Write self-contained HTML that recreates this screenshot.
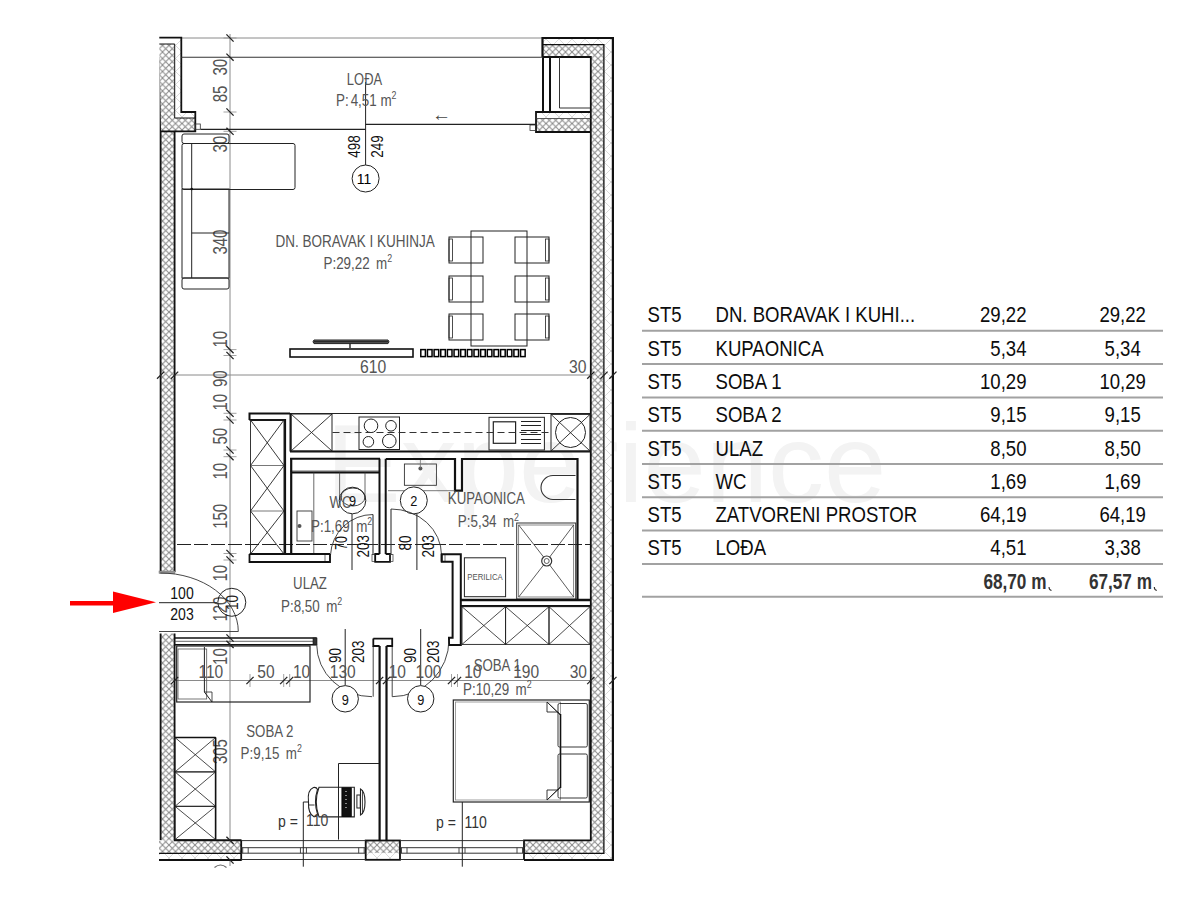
<!DOCTYPE html>
<html><head><meta charset="utf-8"><style>
html,body{margin:0;padding:0;background:#fff;width:1200px;height:900px;overflow:hidden}
svg{display:block}
text{font-family:"Liberation Sans",sans-serif}
</style></head><body>
<svg width="1200" height="900" viewBox="0 0 1200 900">
<defs>
<pattern id="h" width="6.5" height="6.5" patternUnits="userSpaceOnUse">
<rect width="6.5" height="6.5" fill="#fff"/>
<path d="M0 0L6.5 6.5M6.5 0L0 6.5" stroke="#888" stroke-width="1"/>
</pattern>
<pattern id="hl" width="13" height="13" patternUnits="userSpaceOnUse">
<rect width="13" height="13" fill="#fff"/>
<path d="M0 0L13 13M13 0L0 13" stroke="#d0d0d0" stroke-width="0.8"/>
</pattern>
</defs>
<text x="326" y="501.5" font-size="112" fill="#f3f3f3">Experience</text>
<line x1="230" y1="34" x2="230" y2="866" stroke="#8a8a8a" stroke-width="1" />
<line x1="182" y1="38" x2="543" y2="38" stroke="#8a8a8a" stroke-width="1" />
<line x1="160" y1="375" x2="614" y2="375" stroke="#8a8a8a" stroke-width="1" />
<line x1="160" y1="680.5" x2="614" y2="680.5" stroke="#8a8a8a" stroke-width="1" />
<line x1="160" y1="544.5" x2="614" y2="544.5" stroke="#222" stroke-width="1" stroke-dasharray="14 3"/>
<rect x="161" y="131" width="13.6" height="441" fill="url(#h)"/>
<rect x="161" y="633.5" width="13.6" height="207" fill="url(#h)"/>
<line x1="160.6" y1="57" x2="160.6" y2="572" stroke="#111" stroke-width="1.8" />
<line x1="160.6" y1="633.5" x2="160.6" y2="840" stroke="#111" stroke-width="1.8" />
<line x1="174.6" y1="131" x2="174.6" y2="572" stroke="#111" stroke-width="1.8" />
<line x1="174.6" y1="633.5" x2="174.6" y2="840.5" stroke="#111" stroke-width="1.8" />
<path d="M159.3 44 H174.7 V118 H195 V131 H161 Z" fill="url(#h)"/>
<path d="M174.7 38 H181.3 V112 H195.3 V118 H174.7 Z" fill="url(#hl)"/>
<path d="M159.3 44 H174.7 V118 H195" fill="none" stroke="#111" stroke-width="1" />
<path d="M159.3 37.6 H181.3 V112 H195.3 V131.3 H160.6" fill="none" stroke="#111" stroke-width="1.8" />
<rect x="195.3" y="124" width="5" height="5.3" fill="none" stroke="#333" stroke-width="0.8" />
<path d="M543 44.6 H604 V853.3 H524 V840.4 H590.8 V132 H536 V118.5 H590.8 V57 H543 Z" fill="url(#h)"/>
<path d="M543 38 H612 V859.6 H524 V853.3 H604 V44.6 H543 Z" fill="url(#hl)"/>
<path d="M536 112 H590.8 V118.5 H536 Z" fill="url(#hl)"/>
<path d="M542.5 57 V38 H612.9 V860 H524" fill="none" stroke="#111" stroke-width="2.2" />
<path d="M543 44.6 H603.9 V853.3 H524" fill="none" stroke="#111" stroke-width="1.3" />
<path d="M542.5 57 H590.8 V840.4 H524 V860" fill="none" stroke="#111" stroke-width="1.8" />
<path d="M590.8 132 H536 V112 H590.8" fill="none" stroke="#111" stroke-width="1.8" />
<line x1="536" y1="118.5" x2="590.8" y2="118.5" stroke="#333" stroke-width="0.8" />
<line x1="550" y1="57" x2="550" y2="112" stroke="#111" stroke-width="2" />
<line x1="543" y1="57" x2="543" y2="112" stroke="#111" stroke-width="2" />
<line x1="559.5" y1="57" x2="559.5" y2="108" stroke="#333" stroke-width="1" />
<line x1="559.5" y1="108" x2="590" y2="108" stroke="#333" stroke-width="1" />
<rect x="530" y="125" width="5.5" height="5.5" fill="none" stroke="#333" stroke-width="0.8" />
<line x1="200.5" y1="129.4" x2="365.5" y2="129.4" stroke="#222" stroke-width="1.1" />
<line x1="365.5" y1="124.4" x2="536" y2="124.4" stroke="#222" stroke-width="1.1" />
<line x1="181" y1="57.2" x2="543" y2="57.2" stroke="#333" stroke-width="1.1" />
<path d="M159 840.4 H241.2 V853.3 H159 Z" fill="url(#h)"/>
<path d="M159 853.3 H241.2 V859.6 H159 Z" fill="url(#hl)"/>
<line x1="174" y1="840.2" x2="241.5" y2="840.2" stroke="#111" stroke-width="2" />
<line x1="159" y1="853.3" x2="241.2" y2="853.3" stroke="#111" stroke-width="1.3" />
<line x1="159" y1="860" x2="241.5" y2="860" stroke="#111" stroke-width="2" />
<line x1="241.2" y1="840" x2="241.2" y2="860.5" stroke="#111" stroke-width="1.8" />
<path d="M365.7 840.5 H400 V853.2 H365.7 Z" fill="url(#h)"/>
<path d="M365.7 853.2 H400 V859.5 H365.7 Z" fill="url(#hl)"/>
<rect x="365.7" y="840.5" width="34.3" height="19.3" fill="none" stroke="#111" stroke-width="1.8" />
<line x1="241.2" y1="840.6" x2="365.7" y2="840.6" stroke="#333" stroke-width="1" />
<line x1="241.2" y1="847.7" x2="365.7" y2="847.7" stroke="#333" stroke-width="1" />
<line x1="241.2" y1="853.2" x2="365.7" y2="853.2" stroke="#333" stroke-width="1" />
<line x1="241.2" y1="859.5" x2="365.7" y2="859.5" stroke="#333" stroke-width="1" />
<line x1="242.7" y1="847.7" x2="242.7" y2="853.2" stroke="#333" stroke-width="0.9" />
<line x1="248.2" y1="847.7" x2="248.2" y2="853.2" stroke="#333" stroke-width="0.9" />
<line x1="300.45" y1="847.7" x2="300.45" y2="853.2" stroke="#333" stroke-width="0.9" />
<line x1="306.45" y1="847.7" x2="306.45" y2="853.2" stroke="#333" stroke-width="0.9" />
<line x1="358.7" y1="847.7" x2="358.7" y2="853.2" stroke="#333" stroke-width="0.9" />
<line x1="364.2" y1="847.7" x2="364.2" y2="853.2" stroke="#333" stroke-width="0.9" />
<line x1="400" y1="840.6" x2="524" y2="840.6" stroke="#333" stroke-width="1" />
<line x1="400" y1="847.7" x2="524" y2="847.7" stroke="#333" stroke-width="1" />
<line x1="400" y1="853.2" x2="524" y2="853.2" stroke="#333" stroke-width="1" />
<line x1="400" y1="859.5" x2="524" y2="859.5" stroke="#333" stroke-width="1" />
<line x1="401.5" y1="847.7" x2="401.5" y2="853.2" stroke="#333" stroke-width="0.9" />
<line x1="407" y1="847.7" x2="407" y2="853.2" stroke="#333" stroke-width="0.9" />
<line x1="459.0" y1="847.7" x2="459.0" y2="853.2" stroke="#333" stroke-width="0.9" />
<line x1="465.0" y1="847.7" x2="465.0" y2="853.2" stroke="#333" stroke-width="0.9" />
<line x1="517" y1="847.7" x2="517" y2="853.2" stroke="#333" stroke-width="0.9" />
<line x1="522.5" y1="847.7" x2="522.5" y2="853.2" stroke="#333" stroke-width="0.9" />
<line x1="365.6" y1="82" x2="365.6" y2="165" stroke="#222" stroke-width="1" />
<circle cx="365.6" cy="178.5" r="13.5" fill="#fff" stroke="#222" stroke-width="1"/>
<text font-size="15.5" fill="#000" text-anchor="middle" transform="translate(364 184.4) scale(0.9 1)" >11</text>
<text font-size="16" fill="#111" text-anchor="start" transform="translate(359.5 157.8) rotate(-90) scale(0.84 1)" >498</text>
<text font-size="16" fill="#111" text-anchor="start" transform="translate(383.3 157.8) rotate(-90) scale(0.84 1)" >249</text>
<text font-size="15.6" fill="#555" text-anchor="middle" transform="translate(364.5 84.6) scale(0.83 1)" >LOĐA</text>
<text font-size="15.6" fill="#555" transform="translate(336 106.3) scale(0.86 1)">P:<tspan dx="2.3">4,51 m</tspan><tspan font-size="10.3" dy="-7.3">2</tspan></text>
<text font-size="19" fill="#444" text-anchor="middle" transform="translate(441.5 121) scale(1 1)" >←</text>
<text font-size="20" fill="#555" text-anchor="start" transform="translate(227.3 75.6) rotate(-90) scale(0.75 1)" >30</text>
<text font-size="20" fill="#555" text-anchor="start" transform="translate(227.3 102.3) rotate(-90) scale(0.75 1)" >85</text>
<text font-size="20" fill="#555" text-anchor="start" transform="translate(227.3 152.6) rotate(-90) scale(0.75 1)" >30</text>
<text font-size="20" fill="#555" text-anchor="start" transform="translate(227.3 254.6) rotate(-90) scale(0.75 1)" >340</text>
<text font-size="20" fill="#555" text-anchor="start" transform="translate(227.3 347.6) rotate(-90) scale(0.75 1)" >10</text>
<text font-size="20" fill="#555" text-anchor="start" transform="translate(227.3 387.1) rotate(-90) scale(0.75 1)" >90</text>
<text font-size="20" fill="#555" text-anchor="start" transform="translate(227.3 410.6) rotate(-90) scale(0.75 1)" >10</text>
<text font-size="20" fill="#555" text-anchor="start" transform="translate(227.3 444.6) rotate(-90) scale(0.75 1)" >50</text>
<text font-size="20" fill="#555" text-anchor="start" transform="translate(227.3 479.6) rotate(-90) scale(0.75 1)" >10</text>
<text font-size="20" fill="#555" text-anchor="start" transform="translate(227.3 528.8000000000001) rotate(-90) scale(0.75 1)" >150</text>
<text font-size="20" fill="#555" text-anchor="start" transform="translate(227.3 581.6) rotate(-90) scale(0.75 1)" >10</text>
<text font-size="20" fill="#555" text-anchor="start" transform="translate(227.3 621.6) rotate(-90) scale(0.75 1)" >120</text>
<text font-size="20" fill="#555" text-anchor="start" transform="translate(227.3 664.9) rotate(-90) scale(0.75 1)" >10</text>
<text font-size="20" fill="#555" text-anchor="start" transform="translate(227.3 764.1) rotate(-90) scale(0.75 1)" >305</text>
<rect x="182" y="134" width="47" height="9.5" fill="none" stroke="#222" stroke-width="1" rx="2"/>
<rect x="182" y="143.5" width="113" height="46" fill="none" stroke="#222" stroke-width="1" rx="2"/>
<line x1="191.7" y1="143.5" x2="191.7" y2="278" stroke="#222" stroke-width="1" />
<rect x="182" y="189" width="47" height="89" fill="none" stroke="#222" stroke-width="1" />
<line x1="191.7" y1="233" x2="229" y2="233" stroke="#222" stroke-width="1" />
<rect x="182" y="278" width="47" height="11" fill="none" stroke="#222" stroke-width="1" rx="2"/>
<circle cx="191.7" cy="189" r="1.3" fill="#111"/>
<text font-size="15.6" fill="#555" text-anchor="start" transform="translate(275.6 246.8) scale(0.866 1)" >DN. BORAVAK I KUHINJA</text>
<text font-size="15.6" fill="#555" text-anchor="start" transform="translate(323.5 268.7) scale(0.86 1)">P:29,22&#8201; m<tspan font-size="10.3" dy="-6.6">2</tspan></text>
<rect x="471" y="231" width="56" height="115" fill="none" stroke="#222" stroke-width="1" />
<rect x="449" y="237" width="34" height="26" fill="none" stroke="#222" stroke-width="1" />
<rect x="449" y="239" width="3.5" height="22" fill="none" stroke="#222" stroke-width="0.8" />
<rect x="515" y="237" width="34" height="26" fill="none" stroke="#222" stroke-width="1" />
<rect x="545.5" y="239" width="3.5" height="22" fill="none" stroke="#222" stroke-width="0.8" />
<rect x="449" y="276" width="34" height="26" fill="none" stroke="#222" stroke-width="1" />
<rect x="449" y="278" width="3.5" height="22" fill="none" stroke="#222" stroke-width="0.8" />
<rect x="515" y="276" width="34" height="26" fill="none" stroke="#222" stroke-width="1" />
<rect x="545.5" y="278" width="3.5" height="22" fill="none" stroke="#222" stroke-width="0.8" />
<rect x="449" y="314" width="34" height="26" fill="none" stroke="#222" stroke-width="1" />
<rect x="449" y="316" width="3.5" height="22" fill="none" stroke="#222" stroke-width="0.8" />
<rect x="515" y="314" width="34" height="26" fill="none" stroke="#222" stroke-width="1" />
<rect x="545.5" y="316" width="3.5" height="22" fill="none" stroke="#222" stroke-width="0.8" />
<rect x="290" y="349" width="123" height="8" fill="none" stroke="#111" stroke-width="1.6" />
<path d="M314 340 H388 Q390 341.8 388 343.6 H314 Q312 341.8 314 340 Z" fill="#666" stroke="#222" stroke-width="1" />
<line x1="314" y1="341.8" x2="388" y2="341.8" stroke="#111" stroke-width="1" />
<line x1="350" y1="343.5" x2="350" y2="348" stroke="#222" stroke-width="1.4" />
<rect x="420.8" y="349.6" width="4.6" height="7" fill="none" stroke="#000" stroke-width="1.5" />
<rect x="427.45" y="349.6" width="4.6" height="7" fill="none" stroke="#000" stroke-width="1.5" />
<rect x="434.1" y="349.6" width="4.6" height="7" fill="none" stroke="#000" stroke-width="1.5" />
<rect x="440.75" y="349.6" width="4.6" height="7" fill="none" stroke="#000" stroke-width="1.5" />
<rect x="447.40000000000003" y="349.6" width="4.6" height="7" fill="none" stroke="#000" stroke-width="1.5" />
<rect x="454.05" y="349.6" width="4.6" height="7" fill="none" stroke="#000" stroke-width="1.5" />
<rect x="460.70000000000005" y="349.6" width="4.6" height="7" fill="none" stroke="#000" stroke-width="1.5" />
<rect x="467.35" y="349.6" width="4.6" height="7" fill="none" stroke="#000" stroke-width="1.5" />
<rect x="474.0" y="349.6" width="4.6" height="7" fill="none" stroke="#000" stroke-width="1.5" />
<rect x="480.65000000000003" y="349.6" width="4.6" height="7" fill="none" stroke="#000" stroke-width="1.5" />
<rect x="487.3" y="349.6" width="4.6" height="7" fill="none" stroke="#000" stroke-width="1.5" />
<rect x="493.95000000000005" y="349.6" width="4.6" height="7" fill="none" stroke="#000" stroke-width="1.5" />
<rect x="500.6" y="349.6" width="4.6" height="7" fill="none" stroke="#000" stroke-width="1.5" />
<rect x="507.25" y="349.6" width="4.6" height="7" fill="none" stroke="#000" stroke-width="1.5" />
<rect x="513.9" y="349.6" width="4.6" height="7" fill="none" stroke="#000" stroke-width="1.5" />
<rect x="520.55" y="349.6" width="4.6" height="7" fill="none" stroke="#000" stroke-width="1.5" />
<text font-size="18.5" fill="#555" text-anchor="middle" transform="translate(373.2 373) scale(0.85 1)" >610</text>
<text font-size="18.5" fill="#555" text-anchor="middle" transform="translate(577.7 373) scale(0.85 1)" >30</text>
<path d="M249.5 420 V413.5 H290" fill="none" stroke="#111" stroke-width="2" />
<path d="M249.5 420 H285 V554" fill="none" stroke="#111" stroke-width="2.2" />
<rect x="250.5" y="420" width="33.5" height="134" fill="none" stroke="#222" stroke-width="0.9" />
<line x1="250.5" y1="465.5" x2="284" y2="465.5" stroke="#555" stroke-width="0.8" />
<line x1="250.5" y1="420" x2="284" y2="465.5" stroke="#222" stroke-width="0.9" />
<line x1="284" y1="420" x2="250.5" y2="465.5" stroke="#222" stroke-width="0.9" />
<line x1="250.5" y1="511" x2="284" y2="511" stroke="#555" stroke-width="0.8" />
<line x1="250.5" y1="465.5" x2="284" y2="511" stroke="#222" stroke-width="0.9" />
<line x1="284" y1="465.5" x2="250.5" y2="511" stroke="#222" stroke-width="0.9" />
<line x1="250.5" y1="554" x2="284" y2="554" stroke="#555" stroke-width="0.8" />
<line x1="250.5" y1="511" x2="284" y2="554" stroke="#222" stroke-width="0.9" />
<line x1="284" y1="511" x2="250.5" y2="554" stroke="#222" stroke-width="0.9" />
<line x1="290" y1="413.5" x2="590" y2="413.5" stroke="#222" stroke-width="1.2" />
<line x1="290" y1="451.5" x2="590" y2="451.5" stroke="#111" stroke-width="2.2" />
<line x1="290.5" y1="413.5" x2="290.5" y2="451.5" stroke="#111" stroke-width="2" />
<rect x="291" y="414" width="41" height="37" fill="none" stroke="#222" stroke-width="1" />
<line x1="291" y1="414" x2="332" y2="451" stroke="#222" stroke-width="0.9" />
<line x1="332" y1="414" x2="291" y2="451" stroke="#222" stroke-width="0.9" />
<rect x="359" y="417" width="40.5" height="32.5" fill="#fff" stroke="#222" stroke-width="1" />
<circle cx="371" cy="425.8" r="6.8" fill="none" stroke="#222" stroke-width="1"/>
<circle cx="391" cy="425.8" r="5.3" fill="none" stroke="#222" stroke-width="1"/>
<circle cx="368.4" cy="441.8" r="5.3" fill="none" stroke="#222" stroke-width="1"/>
<circle cx="389.3" cy="441" r="6.8" fill="none" stroke="#222" stroke-width="1"/>
<rect x="489" y="417.3" width="55.4" height="32.7" fill="#fff" stroke="#222" stroke-width="1" />
<rect x="493.3" y="421.8" width="22.3" height="21.5" fill="none" stroke="#222" stroke-width="1.2" />
<line x1="521" y1="421.5" x2="541" y2="421.5" stroke="#222" stroke-width="1" />
<line x1="521" y1="425.5" x2="541" y2="425.5" stroke="#222" stroke-width="1" />
<line x1="521" y1="430.5" x2="541" y2="430.5" stroke="#222" stroke-width="1" />
<line x1="521" y1="434.5" x2="541" y2="434.5" stroke="#222" stroke-width="1" />
<line x1="521" y1="439.5" x2="541" y2="439.5" stroke="#222" stroke-width="1" />
<line x1="521" y1="443.5" x2="541" y2="443.5" stroke="#222" stroke-width="1" />
<line x1="332.5" y1="432.5" x2="550" y2="432.5" stroke="#333" stroke-width="1" stroke-dasharray="7 4"/>
<rect x="551" y="414.4" width="39" height="36.6" fill="none" stroke="#222" stroke-width="1" />
<line x1="551" y1="414.4" x2="590" y2="451.0" stroke="#222" stroke-width="0.9" />
<line x1="590" y1="414.4" x2="551" y2="451.0" stroke="#222" stroke-width="0.9" />
<circle cx="570.5" cy="432.5" r="15" fill="none" stroke="#222" stroke-width="1"/>
<line x1="290" y1="458.7" x2="380" y2="458.7" stroke="#111" stroke-width="2" />
<line x1="290" y1="471" x2="380" y2="471" stroke="#444" stroke-width="0.8" />
<line x1="292" y1="472.5" x2="379" y2="472.5" stroke="#111" stroke-width="1.8" />
<line x1="291.2" y1="458.7" x2="291.2" y2="555" stroke="#111" stroke-width="2.2" />
<line x1="379.5" y1="458.7" x2="379.5" y2="554" stroke="#111" stroke-width="2" />
<line x1="313.8" y1="472.5" x2="313.8" y2="555" stroke="#444" stroke-width="0.8" />
<line x1="339.6" y1="472.5" x2="339.6" y2="500" stroke="#444" stroke-width="0.8" />
<line x1="365" y1="472.5" x2="365" y2="500" stroke="#444" stroke-width="0.8" />
<rect x="297" y="511" width="15" height="30" fill="none" stroke="#333" stroke-width="0.9" />
<circle cx="299.5" cy="526" r="2" fill="#555"/>
<ellipse cx="353" cy="497" rx="12" ry="9" fill="none" stroke="#333" stroke-width="0.9"/>
<circle cx="352.5" cy="500.5" r="13.3" fill="none" stroke="#222" stroke-width="1"/>
<text font-size="15.6" fill="#555" text-anchor="start" transform="translate(329.5 508.4) scale(0.85 1)" >WC</text>
<text font-size="15" fill="#111" text-anchor="middle" transform="translate(352.5 506) scale(0.85 1)" >9</text>
<text font-size="15.6" fill="#555" text-anchor="start" transform="translate(311 532.0) scale(0.86 1)">P:1,69&#8201; m<tspan font-size="10.3" dy="-6.6">2</tspan></text>
<path d="M330.5 555 A42.5 42.5 0 0 1 373 514.5" fill="none" stroke="#333" stroke-width="0.9" />
<line x1="373" y1="514.5" x2="373" y2="555" stroke="#333" stroke-width="1.1" />
<rect x="372" y="554.5" width="3.2" height="7" fill="none" stroke="#333" stroke-width="0.7" />
<rect x="325" y="554.5" width="5" height="7" fill="none" stroke="#333" stroke-width="0.7" />
<line x1="352" y1="514" x2="352" y2="570" stroke="#222" stroke-width="1" />
<text font-size="16.5" fill="#111" text-anchor="start" transform="translate(346.5 550) rotate(-90) scale(0.75 1)" >70</text>
<text font-size="16" fill="#111" text-anchor="start" transform="translate(369 557.5) rotate(-90) scale(0.84 1)" >203</text>
<path d="M249.5 554 V562 H330 V554" fill="none" stroke="#111" stroke-width="1.8" />
<line x1="249.5" y1="554" x2="330" y2="554" stroke="#111" stroke-width="1.8" />
<path d="M379.5 554 H375.2 V561.8 H390 V554 H385.7" fill="none" stroke="#111" stroke-width="1.8" />
<line x1="385.7" y1="458.7" x2="385.7" y2="554" stroke="#111" stroke-width="2" />
<path d="M386 459 H455 V490.7 H462 V459 H577.5 V600" fill="none" stroke="#111" stroke-width="2.2" />
<line x1="388" y1="490.7" x2="455" y2="490.7" stroke="#555" stroke-width="0.8" />
<rect x="404.4" y="464" width="32" height="21.3" fill="none" stroke="#333" stroke-width="0.9" />
<circle cx="420.4" cy="468.4" r="2" fill="#555"/>
<line x1="420.4" y1="460" x2="420.4" y2="468" stroke="#777" stroke-width="0.8" />
<circle cx="413.8" cy="500.4" r="13.5" fill="#fff" stroke="#222" stroke-width="1"/>
<text font-size="15" fill="#111" text-anchor="middle" transform="translate(413.8 506) scale(0.85 1)" >2</text>
<line x1="416.9" y1="514" x2="416.9" y2="570" stroke="#222" stroke-width="1" />
<path d="M391 509 V555" fill="none" stroke="#333" stroke-width="1.1" />
<path d="M391 509 A50.5 46 0 0 1 441.5 555" fill="none" stroke="#333" stroke-width="0.9" />
<rect x="390" y="554.5" width="3" height="7" fill="none" stroke="#333" stroke-width="0.7" />
<rect x="441" y="554.5" width="4" height="7" fill="none" stroke="#333" stroke-width="0.7" />
<text font-size="16" fill="#111" text-anchor="start" transform="translate(411 550.5) rotate(-90) scale(0.84 1)" >80</text>
<text font-size="16" fill="#111" text-anchor="start" transform="translate(434 557.5) rotate(-90) scale(0.84 1)" >203</text>
<text font-size="15.6" fill="#555" text-anchor="start" transform="translate(447.8 504.4) scale(0.85 1)" >KUPAONICA</text>
<text font-size="15.6" fill="#555" text-anchor="start" transform="translate(457.8 527.2) scale(0.86 1)">P:5,34&#8201; m<tspan font-size="10.3" dy="-6.6">2</tspan></text>
<path d="M575.5 475.5 H553 A12 12 0 0 0 553 499.5 H575.5" fill="none" stroke="#333" stroke-width="1.1" />
<rect x="516.7" y="523" width="59" height="76" fill="none" stroke="#333" stroke-width="1" />
<rect x="518.7" y="525" width="55" height="72" fill="none" stroke="#555" stroke-width="0.7" />
<line x1="518.7" y1="525" x2="546.7" y2="561" stroke="#333" stroke-width="0.8" />
<line x1="573.7" y1="525" x2="546.7" y2="561" stroke="#333" stroke-width="0.8" />
<line x1="518.7" y1="597" x2="546.7" y2="561" stroke="#333" stroke-width="0.8" />
<line x1="573.7" y1="597" x2="546.7" y2="561" stroke="#333" stroke-width="0.8" />
<circle cx="546.7" cy="561" r="5" fill="#fff" stroke="#333" stroke-width="1.2"/>
<circle cx="546.7" cy="561" r="2.5" fill="none" stroke="#333" stroke-width="0.8"/>
<rect x="464.4" y="557.8" width="41.2" height="38.9" fill="none" stroke="#222" stroke-width="1" />
<text font-size="8.2" fill="#555" text-anchor="middle" transform="translate(485 580) scale(0.95 1)" >PERILICA</text>
<path d="M441.8 554.2 H460.8 V645 H449 V637.8 H452.6 V561.8 H441.8 Z" fill="none" stroke="#111" stroke-width="2" />
<line x1="460.8" y1="600" x2="590.8" y2="600" stroke="#111" stroke-width="2.4" />
<line x1="460.8" y1="606" x2="590.8" y2="606" stroke="#111" stroke-width="2" />
<rect x="462" y="606.7" width="43.60000000000002" height="37.7" fill="none" stroke="#222" stroke-width="0.9" />
<line x1="462" y1="606.7" x2="505.6" y2="644.4000000000001" stroke="#222" stroke-width="0.81" />
<line x1="505.6" y1="606.7" x2="462" y2="644.4000000000001" stroke="#222" stroke-width="0.81" />
<rect x="505.6" y="606.7" width="43.39999999999998" height="37.7" fill="none" stroke="#222" stroke-width="0.9" />
<line x1="505.6" y1="606.7" x2="549.0" y2="644.4000000000001" stroke="#222" stroke-width="0.81" />
<line x1="549.0" y1="606.7" x2="505.6" y2="644.4000000000001" stroke="#222" stroke-width="0.81" />
<rect x="549" y="606.7" width="41" height="37.7" fill="none" stroke="#222" stroke-width="0.9" />
<line x1="549" y1="606.7" x2="590" y2="644.4000000000001" stroke="#222" stroke-width="0.81" />
<line x1="590" y1="606.7" x2="549" y2="644.4000000000001" stroke="#222" stroke-width="0.81" />
<rect x="159" y="571" width="16" height="2.5" fill="#999" stroke="#777" stroke-width="0.5" />
<path d="M160.3 573 A78 58.5 0 0 1 238.3 631.5" fill="none" stroke="#333" stroke-width="0.9" />
<line x1="159" y1="631.5" x2="238.3" y2="631.5" stroke="#333" stroke-width="0.9" />
<line x1="159" y1="602.7" x2="217" y2="602.7" stroke="#222" stroke-width="1" />
<text font-size="16.5" fill="#111" text-anchor="middle" transform="translate(182 598.5) scale(0.85 1)" >100</text>
<text font-size="16.5" fill="#111" text-anchor="middle" transform="translate(182 619.5) scale(0.85 1)" >203</text>
<circle cx="231.8" cy="602.3" r="14" fill="none" stroke="#222" stroke-width="1"/>
<text font-size="16" fill="#222" text-anchor="middle" transform="translate(237.5 602.5) rotate(-90) scale(0.85 1)" >10</text>
<path d="M70 601 H113 V591.5 L156 602.3 L113 613 V605.5 H70 Z" fill="#f00"/>
<text font-size="15.6" fill="#555" text-anchor="middle" transform="translate(310 589) scale(0.85 1)" >ULAZ</text>
<text font-size="15.6" fill="#555" text-anchor="start" transform="translate(281 611.5) scale(0.86 1)">P:8,50&#8201; m<tspan font-size="10.3" dy="-6.6">2</tspan></text>
<line x1="174.5" y1="638" x2="316.7" y2="638" stroke="#111" stroke-width="1.6" />
<line x1="174.5" y1="641.3" x2="316.7" y2="641.3" stroke="#444" stroke-width="0.8" />
<line x1="174.5" y1="644.8" x2="316.7" y2="644.8" stroke="#111" stroke-width="1.6" />
<rect x="313" y="638" width="4" height="6.8" fill="#333" stroke="#111" stroke-width="0.6" />
<rect x="176.7" y="646" width="133.3" height="56" fill="none" stroke="#222" stroke-width="1.2" />
<rect x="178" y="649" width="28.7" height="50" fill="none" stroke="#555" stroke-width="0.8" />
<path d="M204.4 647 V692 L212 702" fill="none" stroke="#222" stroke-width="1" />
<path d="M204.4 692 H212 V702" fill="none" stroke="#222" stroke-width="0.8" />
<path d="M316.7 644.4 A55.3 52.3 0 0 0 372 696.7" fill="none" stroke="#333" stroke-width="0.9" />
<line x1="373.2" y1="646" x2="373.2" y2="696.7" stroke="#333" stroke-width="0.9" />
<line x1="392.2" y1="646" x2="392.2" y2="696.7" stroke="#333" stroke-width="0.9" />
<path d="M392.2 696.7 A57 57 0 0 0 449 639.7" fill="none" stroke="#333" stroke-width="0.9" />
<line x1="345.2" y1="629" x2="345.2" y2="685" stroke="#222" stroke-width="1" />
<line x1="420.7" y1="629" x2="420.7" y2="685" stroke="#222" stroke-width="1" />
<circle cx="345.2" cy="698.8" r="13.2" fill="#fff" stroke="#222" stroke-width="1"/>
<text font-size="15" fill="#111" text-anchor="middle" transform="translate(345.2 704.5) scale(0.85 1)" >9</text>
<circle cx="420.7" cy="698.8" r="13.2" fill="#fff" stroke="#222" stroke-width="1"/>
<text font-size="15" fill="#111" text-anchor="middle" transform="translate(420.7 704.5) scale(0.85 1)" >9</text>
<text font-size="16" fill="#111" text-anchor="start" transform="translate(341 663) rotate(-90) scale(0.84 1)" >90</text>
<text font-size="16" fill="#111" text-anchor="start" transform="translate(364.4 663) rotate(-90) scale(0.84 1)" >203</text>
<text font-size="16" fill="#111" text-anchor="start" transform="translate(415.5 663) rotate(-90) scale(0.84 1)" >90</text>
<text font-size="16" fill="#111" text-anchor="start" transform="translate(439 663) rotate(-90) scale(0.84 1)" >203</text>
<path d="M373.3 638.6 H392.2 V646 H386.5 M373.3 638.6 V646 H379.6" fill="none" stroke="#111" stroke-width="1.8" />
<line x1="379.6" y1="646" x2="379.6" y2="840" stroke="#111" stroke-width="2.2" />
<line x1="386.5" y1="646" x2="386.5" y2="840" stroke="#111" stroke-width="2.2" />
<text font-size="18.3" fill="#555" text-anchor="middle" transform="translate(210.85 678.2) scale(0.85 1)" >110</text>
<text font-size="18.3" fill="#555" text-anchor="middle" transform="translate(265.95000000000005 678.2) scale(0.85 1)" >50</text>
<text font-size="18.3" fill="#555" text-anchor="middle" transform="translate(301.6 678.2) scale(0.85 1)" >10</text>
<text font-size="18.3" fill="#555" text-anchor="middle" transform="translate(342.8 678.2) scale(0.85 1)" >130</text>
<text font-size="18.3" fill="#555" text-anchor="middle" transform="translate(397.3 678.2) scale(0.85 1)" >10</text>
<text font-size="18.3" fill="#555" text-anchor="middle" transform="translate(428.5 678.2) scale(0.85 1)" >100</text>
<text font-size="18.3" fill="#555" text-anchor="middle" transform="translate(472.8 678.2) scale(0.85 1)" >10</text>
<text font-size="18.3" fill="#555" text-anchor="middle" transform="translate(526.1 678.2) scale(0.85 1)" >190</text>
<text font-size="18.3" fill="#555" text-anchor="middle" transform="translate(578.3000000000001 678.2) scale(0.85 1)" >30</text>
<line x1="223.5" y1="38" x2="236.5" y2="38" stroke="#999" stroke-width="0.9" />
<line x1="226.4" y1="34.4" x2="233.6" y2="41.6" stroke="#222" stroke-width="1.3" />
<line x1="223.5" y1="112" x2="236.5" y2="112" stroke="#999" stroke-width="0.9" />
<line x1="226.4" y1="108.4" x2="233.6" y2="115.6" stroke="#222" stroke-width="1.3" />
<line x1="223.5" y1="131.3" x2="236.5" y2="131.3" stroke="#999" stroke-width="0.9" />
<line x1="226.4" y1="127.70000000000002" x2="233.6" y2="134.9" stroke="#222" stroke-width="1.3" />
<line x1="223.5" y1="349.6" x2="236.5" y2="349.6" stroke="#999" stroke-width="0.9" />
<line x1="226.4" y1="346.0" x2="233.6" y2="353.20000000000005" stroke="#222" stroke-width="1.3" />
<line x1="223.5" y1="355.5" x2="236.5" y2="355.5" stroke="#999" stroke-width="0.9" />
<line x1="226.4" y1="351.9" x2="233.6" y2="359.1" stroke="#222" stroke-width="1.3" />
<line x1="223.5" y1="413.3" x2="236.5" y2="413.3" stroke="#999" stroke-width="0.9" />
<line x1="226.4" y1="409.7" x2="233.6" y2="416.90000000000003" stroke="#222" stroke-width="1.3" />
<line x1="223.5" y1="420" x2="236.5" y2="420" stroke="#999" stroke-width="0.9" />
<line x1="226.4" y1="416.4" x2="233.6" y2="423.6" stroke="#222" stroke-width="1.3" />
<line x1="223.5" y1="450" x2="236.5" y2="450" stroke="#999" stroke-width="0.9" />
<line x1="226.4" y1="446.4" x2="233.6" y2="453.6" stroke="#222" stroke-width="1.3" />
<line x1="223.5" y1="456.7" x2="236.5" y2="456.7" stroke="#999" stroke-width="0.9" />
<line x1="226.4" y1="453.09999999999997" x2="233.6" y2="460.3" stroke="#222" stroke-width="1.3" />
<line x1="223.5" y1="553.5" x2="236.5" y2="553.5" stroke="#999" stroke-width="0.9" />
<line x1="226.4" y1="549.9" x2="233.6" y2="557.1" stroke="#222" stroke-width="1.3" />
<line x1="223.5" y1="560" x2="236.5" y2="560" stroke="#999" stroke-width="0.9" />
<line x1="226.4" y1="556.4" x2="233.6" y2="563.6" stroke="#222" stroke-width="1.3" />
<line x1="226.4" y1="53.6" x2="233.6" y2="60.800000000000004" stroke="#222" stroke-width="1.3" />
<line x1="226.4" y1="634.4" x2="233.6" y2="641.6" stroke="#222" stroke-width="1.3" />
<line x1="226.4" y1="640.8" x2="233.6" y2="648.0" stroke="#222" stroke-width="1.3" />
<line x1="226.4" y1="836.6999999999999" x2="233.6" y2="843.9" stroke="#222" stroke-width="1.3" />
<line x1="226.4" y1="856.4" x2="233.6" y2="863.6" stroke="#222" stroke-width="1.3" />
<path d="M214.5 867.5 Q220.5 862.5 226.5 867.5" fill="none" stroke="#666" stroke-width="1.2" />
<line x1="157.0" y1="378.8" x2="164.2" y2="371.59999999999997" stroke="#222" stroke-width="1.3" />
<line x1="171.0" y1="378.8" x2="178.2" y2="371.59999999999997" stroke="#222" stroke-width="1.3" />
<line x1="587.1999999999999" y1="378.8" x2="594.4" y2="371.59999999999997" stroke="#222" stroke-width="1.3" />
<line x1="600.4" y1="378.8" x2="607.6" y2="371.59999999999997" stroke="#222" stroke-width="1.3" />
<line x1="609.3" y1="378.8" x2="616.5" y2="371.59999999999997" stroke="#222" stroke-width="1.3" />
<line x1="250" y1="674.0" x2="250" y2="687.0" stroke="#999" stroke-width="0.9" />
<line x1="246.4" y1="684.1" x2="253.6" y2="676.9" stroke="#222" stroke-width="1.3" />
<line x1="283.7" y1="674.0" x2="283.7" y2="687.0" stroke="#999" stroke-width="0.9" />
<line x1="280.09999999999997" y1="684.1" x2="287.3" y2="676.9" stroke="#222" stroke-width="1.3" />
<line x1="289.7" y1="674.0" x2="289.7" y2="687.0" stroke="#999" stroke-width="0.9" />
<line x1="286.09999999999997" y1="684.1" x2="293.3" y2="676.9" stroke="#222" stroke-width="1.3" />
<line x1="451.5" y1="674.0" x2="451.5" y2="687.0" stroke="#999" stroke-width="0.9" />
<line x1="447.9" y1="684.1" x2="455.1" y2="676.9" stroke="#222" stroke-width="1.3" />
<line x1="457.5" y1="674.0" x2="457.5" y2="687.0" stroke="#999" stroke-width="0.9" />
<line x1="453.9" y1="684.1" x2="461.1" y2="676.9" stroke="#222" stroke-width="1.3" />
<line x1="171.0" y1="684.1" x2="178.2" y2="676.9" stroke="#222" stroke-width="1.3" />
<line x1="376.0" y1="684.1" x2="383.20000000000005" y2="676.9" stroke="#222" stroke-width="1.3" />
<line x1="382.9" y1="684.1" x2="390.1" y2="676.9" stroke="#222" stroke-width="1.3" />
<line x1="587.1999999999999" y1="684.1" x2="594.4" y2="676.9" stroke="#222" stroke-width="1.3" />
<line x1="609.3" y1="684.1" x2="616.5" y2="676.9" stroke="#222" stroke-width="1.3" />
<text font-size="15.6" fill="#555" text-anchor="middle" transform="translate(497.2 671) scale(0.85 1)" >SOBA 1</text>
<text font-size="15.6" fill="#555" text-anchor="start" transform="translate(463 694.9) scale(0.86 1)">P:10,29&#8201; m<tspan font-size="10.3" dy="-6.6">2</tspan></text>
<rect x="453.3" y="700" width="136" height="102" fill="none" stroke="#222" stroke-width="1.2" />
<rect x="455.5" y="702" width="105" height="98" fill="none" stroke="#888" stroke-width="0.8" />
<path d="M547 702 V712 H558 L560 714.5 Z" fill="#fff" stroke="#222" stroke-width="0.9" />
<path d="M547 800 V790 H558 L560 787.5 Z" fill="#fff" stroke="#222" stroke-width="0.9" />
<line x1="547" y1="702" x2="560" y2="714.5" stroke="#222" stroke-width="0.9" />
<line x1="547" y1="800" x2="560" y2="787.5" stroke="#222" stroke-width="0.9" />
<line x1="560.5" y1="714" x2="560.5" y2="788" stroke="#111" stroke-width="1.6" />
<rect x="558" y="703.5" width="29.3" height="43.5" fill="none" stroke="#222" stroke-width="0.9" rx="1.5"/>
<rect x="558" y="754" width="29.3" height="44" fill="none" stroke="#222" stroke-width="0.9" rx="1.5"/>
<line x1="462.3" y1="802" x2="462.3" y2="866.7" stroke="#222" stroke-width="1" />
<text font-size="16.5" fill="#333" text-anchor="start" transform="translate(436 827.5) scale(0.85 1)" >p =</text>
<text font-size="16.5" fill="#333" text-anchor="start" transform="translate(464.5 827.5) scale(0.85 1)" >110</text>
<text font-size="15.6" fill="#555" text-anchor="middle" transform="translate(269.8 736.5) scale(0.85 1)" >SOBA 2</text>
<text font-size="15.6" fill="#555" text-anchor="start" transform="translate(240.6 758.8) scale(0.86 1)">P:9,15&#8201; m<tspan font-size="10.3" dy="-6.6">2</tspan></text>
<rect x="175" y="737.5" width="40.6" height="34.39999999999998" fill="none" stroke="#222" stroke-width="0.9" />
<line x1="175" y1="737.5" x2="215.6" y2="771.9" stroke="#222" stroke-width="0.81" />
<line x1="215.6" y1="737.5" x2="175" y2="771.9" stroke="#222" stroke-width="0.81" />
<rect x="175" y="771.9" width="40.6" height="34.39999999999998" fill="none" stroke="#222" stroke-width="0.9" />
<line x1="175" y1="771.9" x2="215.6" y2="806.3" stroke="#222" stroke-width="0.81" />
<line x1="215.6" y1="771.9" x2="175" y2="806.3" stroke="#222" stroke-width="0.81" />
<rect x="175" y="806.3" width="40.6" height="33.30000000000007" fill="none" stroke="#222" stroke-width="0.9" />
<line x1="175" y1="806.3" x2="215.6" y2="839.6" stroke="#222" stroke-width="0.81" />
<line x1="215.6" y1="806.3" x2="175" y2="839.6" stroke="#222" stroke-width="0.81" />
<line x1="215.6" y1="737.5" x2="215.6" y2="839.6" stroke="#111" stroke-width="1.6" />
<line x1="175" y1="737.5" x2="215.6" y2="737.5" stroke="#111" stroke-width="1.4" />
<path d="M338.5 839.6 V763.5 H379" fill="none" stroke="#222" stroke-width="1" />
<path d="M319 787.3 H354.3 V816.9 H319 Q313.5 802 319 787.3 Z" fill="none" stroke="#222" stroke-width="1.1" />
<path d="M313.5 787.5 Q307 790 308.5 802 Q308 814 314 816.8 Q318 816 317.5 814 Q313.5 802 317.5 789.5 Q316.5 787 313.5 787.5 Z" fill="#fff" stroke="#222" stroke-width="1.1" />
<line x1="309" y1="805" x2="314.5" y2="805" stroke="#222" stroke-width="0.9" />
<rect x="341.9" y="787.8" width="9.4" height="28.8" fill="#111" stroke="#000" stroke-width="0.8" />
<rect x="345.5" y="791" width="1" height="1" fill="#fff"/>
<rect x="345.5" y="795" width="1" height="1" fill="#fff"/>
<rect x="345.5" y="799" width="1" height="1" fill="#fff"/>
<rect x="345.5" y="803" width="1" height="1" fill="#fff"/>
<rect x="345.5" y="807" width="1" height="1" fill="#fff"/>
<rect x="356.9" y="795" width="3.4" height="13" fill="#fff" stroke="#222" stroke-width="1" />
<path d="M360.5 789 C366.5 792 366.5 812 360.5 815 Z" fill="#fff" stroke="#222" stroke-width="1.1" />
<line x1="362.5" y1="790" x2="362.5" y2="814" stroke="#222" stroke-width="0.8" />
<line x1="303.3" y1="802" x2="303.3" y2="866.7" stroke="#222" stroke-width="1" />
<line x1="303.3" y1="802" x2="309" y2="802" stroke="#222" stroke-width="1" />
<text font-size="16.5" fill="#333" text-anchor="start" transform="translate(278 826.5) scale(0.85 1)" >p =</text>
<text font-size="16.5" fill="#444" text-anchor="start" transform="translate(306 826) scale(0.85 1)" >110</text>
<line x1="642" y1="330.8" x2="1163" y2="330.8" stroke="#a2a2a2" stroke-width="2" />
<line x1="642" y1="364.1" x2="1163" y2="364.1" stroke="#a2a2a2" stroke-width="2" />
<line x1="642" y1="397.4" x2="1163" y2="397.4" stroke="#a2a2a2" stroke-width="2" />
<line x1="642" y1="430.7" x2="1163" y2="430.7" stroke="#a2a2a2" stroke-width="2" />
<line x1="642" y1="464.0" x2="1163" y2="464.0" stroke="#a2a2a2" stroke-width="2" />
<line x1="642" y1="497.3" x2="1163" y2="497.3" stroke="#a2a2a2" stroke-width="2" />
<line x1="642" y1="530.6" x2="1163" y2="530.6" stroke="#a2a2a2" stroke-width="2" />
<line x1="642" y1="563.9" x2="1163" y2="563.9" stroke="#a2a2a2" stroke-width="2" />
<line x1="642" y1="596.8" x2="1163" y2="596.8" stroke="#a2a2a2" stroke-width="2" />
<text x="748.55" y="322.4" font-size="21.5" fill="#0d0d0d" text-anchor="start" font-weight="normal" transform="scale(0.865 1)">ST5</text>
<text x="827.17" y="322.4" font-size="21.5" fill="#0d0d0d" text-anchor="start" font-weight="normal" transform="scale(0.865 1)">DN. BORAVAK I KUHI...</text>
<text x="1186.71" y="322.4" font-size="21.5" fill="#0d0d0d" text-anchor="end" font-weight="normal" transform="scale(0.865 1)">29,22</text>
<text x="1297.92" y="322.4" font-size="21.5" fill="#0d0d0d" text-anchor="middle" font-weight="normal" transform="scale(0.865 1)">29,22</text>
<text x="748.55" y="355.7" font-size="21.5" fill="#0d0d0d" text-anchor="start" font-weight="normal" transform="scale(0.865 1)">ST5</text>
<text x="827.17" y="355.7" font-size="21.5" fill="#0d0d0d" text-anchor="start" font-weight="normal" transform="scale(0.865 1)">KUPAONICA</text>
<text x="1186.71" y="355.7" font-size="21.5" fill="#0d0d0d" text-anchor="end" font-weight="normal" transform="scale(0.865 1)">5,34</text>
<text x="1297.92" y="355.7" font-size="21.5" fill="#0d0d0d" text-anchor="middle" font-weight="normal" transform="scale(0.865 1)">5,34</text>
<text x="748.55" y="389.0" font-size="21.5" fill="#0d0d0d" text-anchor="start" font-weight="normal" transform="scale(0.865 1)">ST5</text>
<text x="827.17" y="389.0" font-size="21.5" fill="#0d0d0d" text-anchor="start" font-weight="normal" transform="scale(0.865 1)">SOBA 1</text>
<text x="1186.71" y="389.0" font-size="21.5" fill="#0d0d0d" text-anchor="end" font-weight="normal" transform="scale(0.865 1)">10,29</text>
<text x="1297.92" y="389.0" font-size="21.5" fill="#0d0d0d" text-anchor="middle" font-weight="normal" transform="scale(0.865 1)">10,29</text>
<text x="748.55" y="422.29999999999995" font-size="21.5" fill="#0d0d0d" text-anchor="start" font-weight="normal" transform="scale(0.865 1)">ST5</text>
<text x="827.17" y="422.29999999999995" font-size="21.5" fill="#0d0d0d" text-anchor="start" font-weight="normal" transform="scale(0.865 1)">SOBA 2</text>
<text x="1186.71" y="422.29999999999995" font-size="21.5" fill="#0d0d0d" text-anchor="end" font-weight="normal" transform="scale(0.865 1)">9,15</text>
<text x="1297.92" y="422.29999999999995" font-size="21.5" fill="#0d0d0d" text-anchor="middle" font-weight="normal" transform="scale(0.865 1)">9,15</text>
<text x="748.55" y="455.59999999999997" font-size="21.5" fill="#0d0d0d" text-anchor="start" font-weight="normal" transform="scale(0.865 1)">ST5</text>
<text x="827.17" y="455.59999999999997" font-size="21.5" fill="#0d0d0d" text-anchor="start" font-weight="normal" transform="scale(0.865 1)">ULAZ</text>
<text x="1186.71" y="455.59999999999997" font-size="21.5" fill="#0d0d0d" text-anchor="end" font-weight="normal" transform="scale(0.865 1)">8,50</text>
<text x="1297.92" y="455.59999999999997" font-size="21.5" fill="#0d0d0d" text-anchor="middle" font-weight="normal" transform="scale(0.865 1)">8,50</text>
<text x="748.55" y="488.9" font-size="21.5" fill="#0d0d0d" text-anchor="start" font-weight="normal" transform="scale(0.865 1)">ST5</text>
<text x="827.17" y="488.9" font-size="21.5" fill="#0d0d0d" text-anchor="start" font-weight="normal" transform="scale(0.865 1)">WC</text>
<text x="1186.71" y="488.9" font-size="21.5" fill="#0d0d0d" text-anchor="end" font-weight="normal" transform="scale(0.865 1)">1,69</text>
<text x="1297.92" y="488.9" font-size="21.5" fill="#0d0d0d" text-anchor="middle" font-weight="normal" transform="scale(0.865 1)">1,69</text>
<text x="748.55" y="522.1999999999999" font-size="21.5" fill="#0d0d0d" text-anchor="start" font-weight="normal" transform="scale(0.865 1)">ST5</text>
<text x="827.17" y="522.1999999999999" font-size="21.5" fill="#0d0d0d" text-anchor="start" font-weight="normal" transform="scale(0.865 1)">ZATVORENI PROSTOR</text>
<text x="1186.71" y="522.1999999999999" font-size="21.5" fill="#0d0d0d" text-anchor="end" font-weight="normal" transform="scale(0.865 1)">64,19</text>
<text x="1297.92" y="522.1999999999999" font-size="21.5" fill="#0d0d0d" text-anchor="middle" font-weight="normal" transform="scale(0.865 1)">64,19</text>
<text x="748.55" y="555.5" font-size="21.5" fill="#0d0d0d" text-anchor="start" font-weight="normal" transform="scale(0.865 1)">ST5</text>
<text x="827.17" y="555.5" font-size="21.5" fill="#0d0d0d" text-anchor="start" font-weight="normal" transform="scale(0.865 1)">LOĐA</text>
<text x="1186.71" y="555.5" font-size="21.5" fill="#0d0d0d" text-anchor="end" font-weight="normal" transform="scale(0.865 1)">4,51</text>
<text x="1297.92" y="555.5" font-size="21.5" fill="#0d0d0d" text-anchor="middle" font-weight="normal" transform="scale(0.865 1)">3,38</text>
<text x="1308.12" y="588.8" font-size="21.5" fill="#333" text-anchor="end" font-weight="bold" transform="scale(0.8 1)">68,70 m</text>
<text x="1440.00" y="588.8" font-size="21.5" fill="#333" text-anchor="end" font-weight="bold" transform="scale(0.8 1)">67,57 m</text>
<path d="M1049 587 q0 3 2.5 3.5" fill="none" stroke="#333" stroke-width="1.1" />
<path d="M1154.3 587 q0 3 2.5 3.5" fill="none" stroke="#333" stroke-width="1.1" />
</svg>
</body></html>
